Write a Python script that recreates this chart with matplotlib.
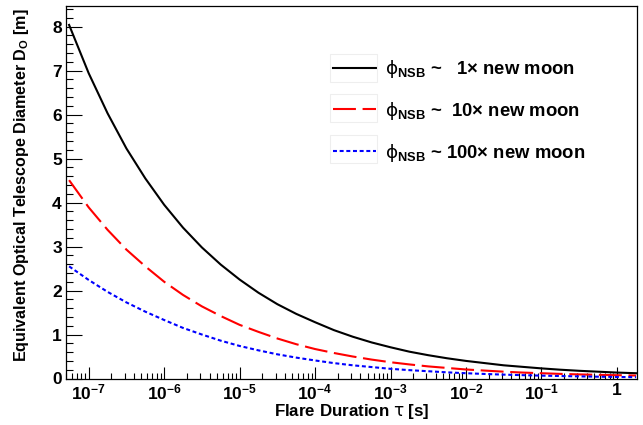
import numpy as np
import matplotlib
matplotlib.use("Agg")
import matplotlib.pyplot as plt
from matplotlib.ticker import FixedLocator, LogLocator, MultipleLocator, FuncFormatter, NullFormatter
from matplotlib.patches import Rectangle

plt.rcParams['font.family'] = ['Liberation Sans', 'DejaVu Sans']
plt.rcParams['font.weight'] = 'bold'
plt.rcParams['axes.labelweight'] = 'bold'
plt.rcParams['mathtext.fontset'] = 'custom'
plt.rcParams['mathtext.rm'] = 'Liberation Sans:bold'
plt.rcParams['mathtext.bf'] = 'Liberation Sans:bold'
plt.rcParams['mathtext.it'] = 'DejaVu Sans:style=normal:weight=normal'
plt.rcParams['mathtext.fallback'] = 'stixsans'

# flare duration grid (log10 of tau in s)
log_tau = [-7.26, -7.0, -6.75, -6.5, -6.25, -6.0, -5.75, -5.5, -5.25, -5.0,
           -4.75, -4.5, -4.25, -4.0, -3.75, -3.5, -3.25, -3.0, -2.75, -2.5,
           -2.25, -2.0, -1.75, -1.5, -1.25, -1.0, -0.75, -0.5, -0.25, 0.0, 0.255]

# equivalent diameter D_O [m] for three night-sky-background levels
d_1x = [8.04, 6.94, 6.03, 5.23, 4.55, 3.95, 3.43, 2.98, 2.59, 2.25,
        1.95, 1.69, 1.47, 1.28, 1.10, 0.95, 0.82, 0.71, 0.61, 0.53,
        0.46, 0.40, 0.35, 0.30, 0.265, 0.23, 0.20, 0.175, 0.155, 0.135, 0.12]
d_10x = [4.51, 3.89, 3.38, 2.93, 2.55, 2.20, 1.90, 1.64, 1.42, 1.22,
         1.06, 0.91, 0.78, 0.67, 0.58, 0.50, 0.43, 0.37, 0.32, 0.275,
         0.24, 0.205, 0.18, 0.155, 0.135, 0.12, 0.105, 0.093, 0.083, 0.075, 0.067]
d_100x = [2.55, 2.24, 1.97, 1.73, 1.52, 1.33, 1.15, 1.00, 0.86, 0.74,
          0.64, 0.55, 0.475, 0.41, 0.35, 0.30, 0.26, 0.22, 0.19, 0.165,
          0.14, 0.12, 0.103, 0.088, 0.076, 0.065, 0.056, 0.048, 0.041, 0.035, 0.03]

decades = [1e-7, 1e-6, 1e-5, 1e-4, 1e-3, 1e-2, 1e-1, 1.0]

labels = [r'$\phi_{\mathbf{NSB}}$ ~   1$\times$ new moon',
          r'$\phi_{\mathbf{NSB}}$ ~  10$\times$ new moon',
          r'$\phi_{\mathbf{NSB}}$ ~ 100$\times$ new moon']

tau = 10 ** np.array(log_tau)

fig = plt.figure(figsize=(6.43, 4.25), dpi=100)
ax = fig.add_axes([66 / 643, 1 - 378.5 / 425, 571 / 643, 372.5 / 425])

ax.plot(tau, d_1x, color='black', lw=1.5, label=labels[0])
ax.plot(tau, d_10x, color='red', lw=1.5, dashes=(11, 3.2), label=labels[1])
ax.plot(tau, d_100x, color='blue', lw=1.5, dashes=(1.9, 1.3), label=labels[2])

ax.set_xscale('log')
ax.set_xlim(5e-8, 1.85)
ax.set_ylim(0, 8.47)

def decade_fmt(v, pos):
    e = int(round(np.log10(v)))
    if e == 0:
        return '1'
    return r'$\mathdefault{10^{%d}}$' % e

ax.xaxis.set_major_locator(FixedLocator(decades))
ax.xaxis.set_minor_locator(LogLocator(base=10, subs=np.arange(2, 10), numticks=20))
ax.xaxis.set_major_formatter(FuncFormatter(decade_fmt))
ax.xaxis.set_minor_formatter(NullFormatter())
ax.yaxis.set_major_locator(MultipleLocator(1))
ax.yaxis.set_minor_locator(MultipleLocator(0.2))

ax.tick_params(which='both', direction='in', top=False, right=False,
               width=0.8, labelsize=12.5)
ax.tick_params(axis='y', which='major', length=11.3, pad=3)
ax.tick_params(axis='y', which='minor', length=5.3)
ax.tick_params(axis='x', which='major', length=8.6, pad=3)
ax.tick_params(axis='x', which='minor', length=4.1)
for s in ax.spines.values():
    s.set_linewidth(0.9)

ax.set_xlabel(r'Flare Duration $\tau$ [s]', fontsize=12.2, fontweight='bold')
ax.xaxis.set_label_coords(0.5, -0.064)
ax.set_ylabel(r'Equivalent Optical Telescope Diameter D$_{\mathdefault{O}}$ [m]',
              fontsize=11.6, fontweight='bold', loc='top')
ax.yaxis.set_label_coords(-0.061, 0.995)

leg = ax.legend(loc='upper left', bbox_to_anchor=(333 / 643, 1 - 58 / 425),
                bbox_transform=fig.transFigure, frameon=False, fontsize=13.3,
                handlelength=2.35, handletextpad=0.45, labelspacing=1.08,
                borderpad=0, borderaxespad=0)

# faint boxes around the legend line samples
for yc in (68, 108, 149):
    fig.patches.append(Rectangle((330 / 643, 1 - (yc + 14) / 425), 47 / 643, 28 / 425,
                                 transform=fig.transFigure, fill=False,
                                 edgecolor='#eeeeee', lw=0.8))

fig.savefig('out.png', dpi=100)
